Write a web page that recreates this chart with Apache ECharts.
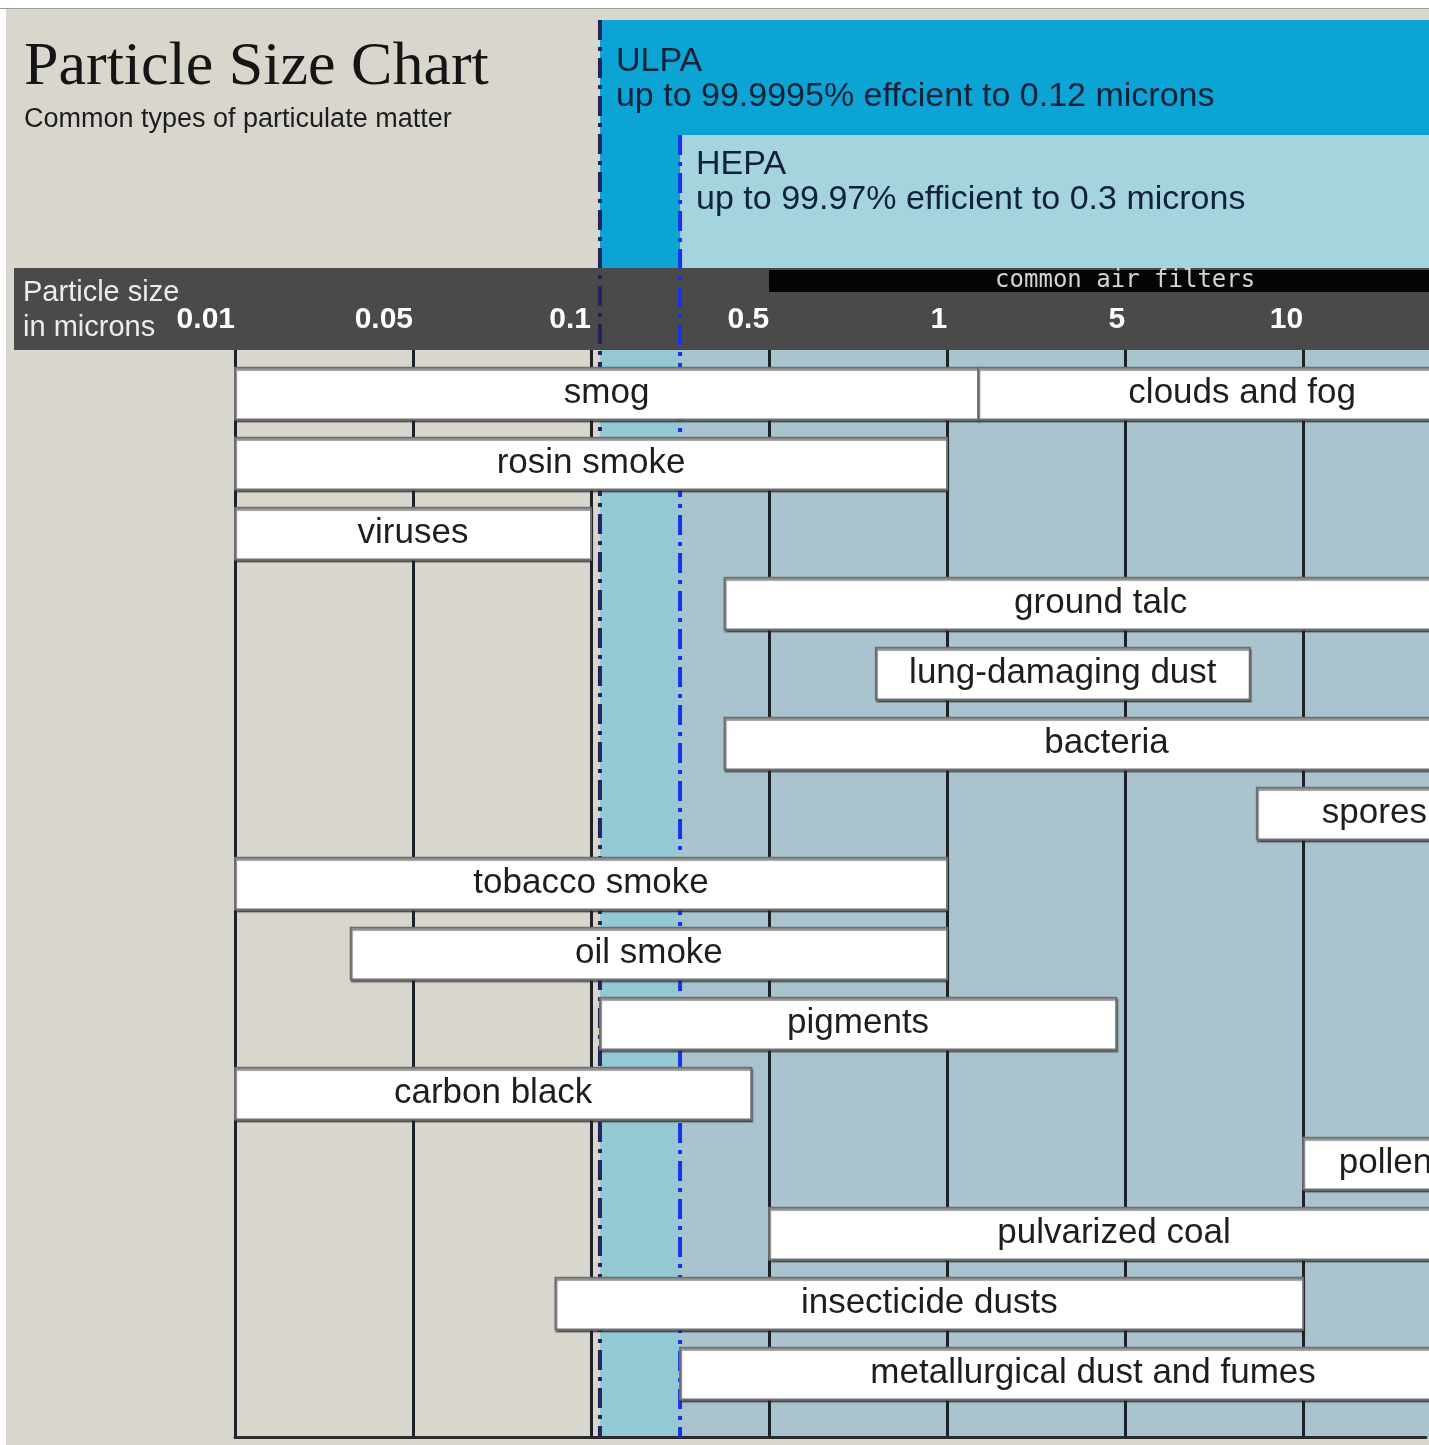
<!DOCTYPE html>
<html>
<head>
<meta charset="utf-8">
<title>Particle Size Chart</title>
<script src="https://cdn.jsdelivr.net/npm/echarts@6/dist/echarts.min.js"></script>
<style>
html,body{margin:0;padding:0;background:#fff;}
#chart{width:1429px;height:1445px;}
</style>
</head>
<body>
<div id="chart"></div>
<script>
// axis steps (microns); positions between two steps are linear
var tickValues = [0.01, 0.05, 0.1, 0.5, 1, 5, 10, 50, 100];
var tickLabels = ['0.01', '0.05', '0.1', '0.5', '1', '5', '10'];

// particles: row, from, to (microns)
var particles = ['smog', 'clouds and fog', 'rosin smoke', 'viruses', 'ground talc',
	'lung-damaging dust', 'bacteria', 'spores', 'tobacco smoke', 'oil smoke', 'pigments',
	'carbon black', 'pollen', 'pulvarized coal', 'insecticide dusts', 'metallurgical dust and fumes'];
var particleRow = [0, 0, 1, 2, 3, 4, 5, 6, 7, 8, 9, 10, 11, 12, 13, 14];
var sizeFrom = [0.01, 1.7, 0.01, 0.01, 0.4, 0.8, 0.4, 8.7, 0.01, 0.036, 0.12, 0.01, 10, 0.5, 0.09, 0.3];
var sizeTo = [1.7, 57, 1, 0.1, 49, 8.5, 52, 53, 1, 1, 4.8, 0.46, 47, 45, 10, 57];

// filters
var filterNames = ['ULPA', 'HEPA'];
var filterNotes = ['up to 99.9995% effcient to 0.12 microns', 'up to 99.97% efficient to 0.3 microns'];
var filterFrom = [0.12, 0.3];
var commonFilters = [[0.5, 50]];

var axisMax = 6.69;
var FONT = "'Liberation Sans', Arial, sans-serif";

// style bits for the filter zones
var zoneTop = [20, 135];
var zoneTextTop = [44, 147];
var zoneHeadFill = ['#0ba4d4', '#a5d3de'];
var zonePlotFill = ['#93c8d5', '#a9c4cf'];
var zoneEdge = ['#23245e', '#1733e6'];

function toAxis(v){
	for(var i = 0; i < tickValues.length - 1; i++){
		if(v <= tickValues[i + 1]){
			return i + (v - tickValues[i]) / (tickValues[i + 1] - tickValues[i]);
		}
	}
	return tickValues.length - 1;
}

var barData = particles.map(function(name, i){
	return [toAxis(sizeFrom[i]), toAxis(sizeTo[i]), particleRow[i]];
});
var zoneData = filterFrom.map(function(v){ return [toAxis(v), 0]; });

var myChart = echarts.init(document.getElementById('chart'));

var option = {
	backgroundColor: '#fff',
	animation: false,
	title: {
		text: 'Particle Size Chart',
		subtext: 'Common types of particulate matter',
		left: 24,
		top: 37,
		padding: 0,
		itemGap: 7,
		textStyle: {fontFamily: "'Liberation Serif', 'Times New Roman', serif", fontSize: 62, fontWeight: 'normal', color: '#151515', lineHeight: 62},
		subtextStyle: {fontFamily: FONT, fontSize: 27, color: '#1d1d1d', lineHeight: 27}
	},
	graphic: [
		{type: 'rect', z: -10, shape: {x: 6, y: 9, width: 1423, height: 1436}, style: {fill: '#d9d7cd'}},
		{type: 'line', z: -10, shape: {x1: 0, y1: 8.5, x2: 1429, y2: 8.5}, style: {stroke: '#9a9a9a', lineWidth: 1}},
		{type: 'rect', z: -3, shape: {x: 14, y: 268, width: 1415, height: 82}, style: {fill: '#4a4a4a'}},
		{type: 'text', z: -2, x: 23, y: 275, style: {text: 'Particle size\nin microns', fontFamily: FONT, fontSize: 29, lineHeight: 35, fill: '#ececec'}}
	],
	grid: {left: 235, right: 0, top: 350, bottom: 8},
	xAxis: [
		{
			type: 'value',
			position: 'top',
			min: 0,
			max: axisMax,
			interval: 1,
			axisLine: {show: false},
			axisTick: {show: true, length: 17, lineStyle: {color: '#111', width: 2}},
			axisLabel: {
				color: '#fff', fontWeight: 'bold', fontSize: 30, fontFamily: FONT,
				align: 'right', margin: 15,
				formatter: function(v){ return tickLabels[v] || ''; }
			},
			splitLine: {show: true, showMaxLine: false, lineStyle: {color: '#1c2228', width: 3}}
		},
		{
			type: 'value',
			position: 'bottom',
			min: 0,
			max: axisMax,
			axisLine: {show: true, lineStyle: {color: '#2b2b2b', width: 3}},
			axisTick: {show: false},
			axisLabel: {show: false},
			splitLine: {show: false}
		}
	],
	yAxis: {type: 'value', inverse: true, min: -0.624, max: 14.904, show: false},
	series: [
		{
			// ULPA / HEPA areas
			name: 'zones',
			type: 'custom',
			z: -5,
			clip: false,
			silent: true,
			data: zoneData,
			renderItem: function(params, api){
				var i = params.dataIndex;
				var cs = params.coordSys;
				var x0 = api.coord([api.value(0), 0])[0];
				var right = api.getWidth();
				return {
					type: 'group',
					children: [
						{type: 'rect', shape: {x: x0, y: zoneTop[i], width: right - x0, height: cs.y - zoneTop[i]}, style: {fill: zoneHeadFill[i]}},
						{type: 'rect', shape: {x: x0, y: cs.y, width: right - x0, height: cs.height}, style: {fill: zonePlotFill[i]}},
						{type: 'text', x: x0 + 16, y: zoneTextTop[i], style: {
							text: filterNames[i] + '\n' + filterNotes[i],
							fontFamily: FONT, fontSize: 34, lineHeight: 35, fill: '#0f2238'
						}}
					]
				};
			}
		},
		{
			name: 'common air filters',
			type: 'custom',
			z: -2,
			clip: false,
			silent: true,
			data: commonFilters.map(function(d){ return [toAxis(d[0]), toAxis(d[1])]; }),
			renderItem: function(params, api){
				var cs = params.coordSys;
				var a = api.coord([api.value(0), 0])[0];
				var b = api.coord([api.value(1), 0])[0];
				return {
					type: 'rect',
					shape: {x: a, y: cs.y - 80, width: b - a, height: 22},
					style: {fill: '#050505'},
					textContent: {style: {text: 'common air filters', fontFamily: "'DejaVu Sans Mono', monospace", fontSize: 24, fill: '#d4d4d4'}},
					textConfig: {position: 'inside'}
				};
			}
		},
		{
			// dash-dot edges of the filter zones
			name: 'edges',
			type: 'custom',
			z: 1,
			clip: false,
			silent: true,
			data: zoneData,
			renderItem: function(params, api){
				var i = params.dataIndex;
				var cs = params.coordSys;
				var x0 = api.coord([api.value(0), 0])[0];
				return {
					type: 'line',
					shape: {x1: x0, y1: zoneTop[i], x2: x0, y2: cs.y + cs.height},
					style: {stroke: zoneEdge[i], lineWidth: 4, lineDash: [20, 7, 4, 7]}
				};
			}
		},
		{
			name: 'particles',
			type: 'custom',
			z: 2,
			clip: false,
			data: barData,
			encode: {x: [0, 1], y: 2},
			renderItem: function(params, api){
				var p0 = api.coord([api.value(0), api.value(2)]);
				var p1 = api.coord([api.value(1), api.value(2)]);
				var h = api.size([0, 1])[1] * 0.74;
				return {
					type: 'rect',
					shape: {x: p0[0], y: p0[1] - h / 2, width: p1[0] - p0[0], height: h},
					style: {
						fill: '#fff', stroke: '#6e6e6e', lineWidth: 2,
						shadowColor: 'rgba(40,40,40,0.55)', shadowOffsetX: 1, shadowOffsetY: 2, shadowBlur: 1
					},
					textContent: {style: {text: particles[params.dataIndex], fontFamily: FONT, fontSize: 35, fill: '#1e1e1e'}},
					textConfig: {position: 'inside'}
				};
			}
		}
	]
};

myChart.setOption(option);
</script>
</body>
</html>
